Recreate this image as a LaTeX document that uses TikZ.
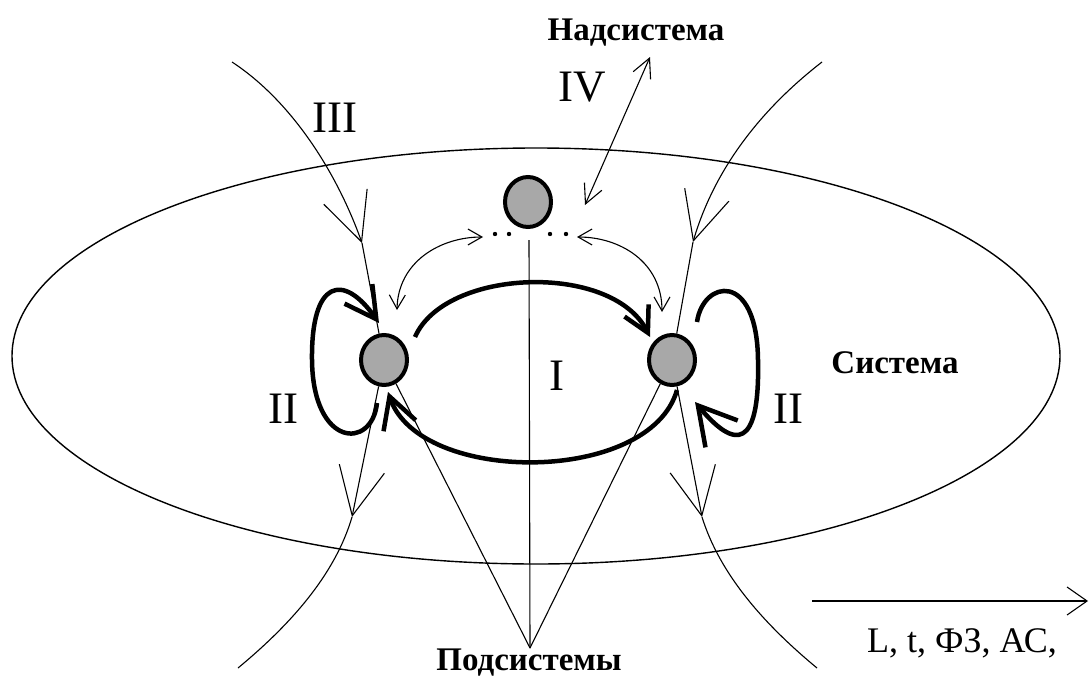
\documentclass[tikz,border=0pt]{standalone}
\usepackage{fontspec}
\setmainfont{Liberation Serif}
\usetikzlibrary{arrows.meta,shapes.geometric}
\pgfdeclarelayer{bg}
\pgfsetlayers{bg,main}
\definecolor{ballgray}{RGB}{168,168,168}
\begin{document}
\begin{tikzpicture}[x=1pt,y=-1pt,
  thinl/.style={line width=1.1pt},
  thickl/.style={line width=4.5pt},
  ball/.style={ellipse, draw, line width=4pt, fill=ballgray, minimum width=46pt, minimum height=50pt, inner sep=0pt},
  dotn/.style={circle, fill, inner sep=0pt, minimum size=4.4pt},
  roman/.style={font=\fontsize{45}{45}\selectfont, inner sep=0pt},
  word/.style={font=\bfseries\fontsize{33}{33}\selectfont, inner sep=0pt},
  bigbarb/.style={-{Straight Barb[length=48pt,width=46pt]}},
  thickbarbA/.style={-{Straight Barb[length=31pt,width=34pt]}},
  thickbarbB/.style={-{Straight Barb[length=37pt,width=42pt]}},
  smallbarbs/.style={{Straight Barb[length=19pt,width=19pt]}-{Straight Barb[length=19pt,width=19pt]}},
  tinybarbs/.style={{Straight Barb[length=14pt,width=16pt]}-{Straight Barb[length=14pt,width=16pt]}}
]
\useasboundingbox (0,0) rectangle (1089,680);

% system ellipse
\node[draw, ellipse, line width=1.4pt, minimum width=1048pt, minimum height=416pt, inner sep=0pt] (sys) at (536,356) {};

% subsystems
\node[ball] (T) at (528,202) {};
\node[ball] (L) at (384,360) {};
\node[ball] (R) at (672,360) {};

% dots
\node[dotn] (dt1) at (495,234) {};
\node[dotn] (dt2) at (509,234) {};
\node[dotn] (dt3) at (550,234) {};
\node[dotn] (dt4) at (566,234) {};

% labels
\node[word, anchor=base] (nad) at (636,40) {Надсистема};
\node[word, anchor=base] (pod) at (529,670) {Подсистемы};
\node[word, anchor=base] (sist) at (895,373) {Система};
\node[font=\fontsize{36}{36}\selectfont, inner sep=0pt, anchor=base] (params) at (962,652) {L, t, ФЗ, АС,};
\node[roman, anchor=base] (lIV) at (582,101) {IV};
\node[roman, anchor=base] (lIII) at (335,132) {III};
\node[roman, anchor=base] (lIIa) at (283,423) {II};
\node[roman, anchor=base] (lIIb) at (788,423) {II};
\node[roman, anchor=base] (lI) at (557,390) {I};

% free ends
\coordinate (vtop) at (529,240);
\coordinate (sub) at (530,648);
\coordinate (a1) at (232,62);
\coordinate (a1t) at (362,243);
\coordinate (a2t) at (352,517);
\coordinate (a2e) at (238,668);
\coordinate (b1) at (822,62);
\coordinate (b1t) at (693,242);
\coordinate (b2t) at (702,517);
\coordinate (b2e) at (817,668);
\coordinate (iv1) at (585,205);
\coordinate (iv2) at (650,57);
\coordinate (d1) at (483,237);
\coordinate (d1b) at (397,310);
\coordinate (d2) at (577,237);
\coordinate (d2b) at (662,312);
\coordinate (u1) at (415,337);
\coordinate (u2) at (650,337);
\coordinate (l1) at (677,390);
\coordinate (l2) at (388,392);
\coordinate (ll0) at (377,403);
\coordinate (llt) at (379,323);
\coordinate (rl0) at (697,322);
\coordinate (rlt) at (695,402);
\coordinate (ax0) at (812,601);
\coordinate (ax1) at (1088,601);

\begin{pgfonlayer}{bg}
\fill[white] (0,0) rectangle (1089,680);

% I : vertical line and lines to subsystems
\draw[thinl] (vtop) -- (sub);
\draw[thinl] (sub) -- (L);
\draw[thinl] (sub) -- (R);

% III : flows through the system
\draw[thinl, bigbarb] (a1) .. controls (290,100) and (336,170) .. (a1t);
\draw[thinl] (a1t) -- (L);
\draw[thinl, bigbarb] (L) -- (a2t);
\draw[thinl] (a2t) .. controls (335,575) and (290,625) .. (a2e);
\draw[thinl, bigbarb] (b1) .. controls (760,110) and (714,170) .. (b1t);
\draw[thinl] (b1t) -- (R);
\draw[thinl, bigbarb] (R) -- (b2t);
\draw[thinl] (b2t) .. controls (720,575) and (765,625) .. (b2e);

% IV : link to the supersystem
\draw[thinl, smallbarbs] (iv1) -- (iv2);
\draw[thinl, tinybarbs] (d1b) .. controls (398,262) and (440,237) .. (d1);
\draw[thinl, tinybarbs] (d2) .. controls (620,237) and (662,262) .. (d2b);

% I : thick arcs between subsystems
\draw[thickl, -{Straight Barb[length=25pt,width=27pt]}] (u1) .. controls (445,268) and (612,262) .. (u2);
\draw[thickl, thickbarbA] (l1) .. controls (650,485) and (420,485) .. (l2);

% II : self loops
\draw[thickl, thickbarbA] (ll0) .. controls (372,450) and (313,448) .. (312,360) .. controls (311,280) and (343,272) .. (llt);
\draw[thickl, thickbarbB] (rl0) .. controls (703,280) and (757,270) .. (758,360) .. controls (760,450) and (735,450) .. (rlt);

% parameter axis
\draw[thinl, -{Straight Barb[length=20pt,width=28pt]}] (ax0) -- (ax1);
\end{pgfonlayer}
\end{tikzpicture}
\end{document}
